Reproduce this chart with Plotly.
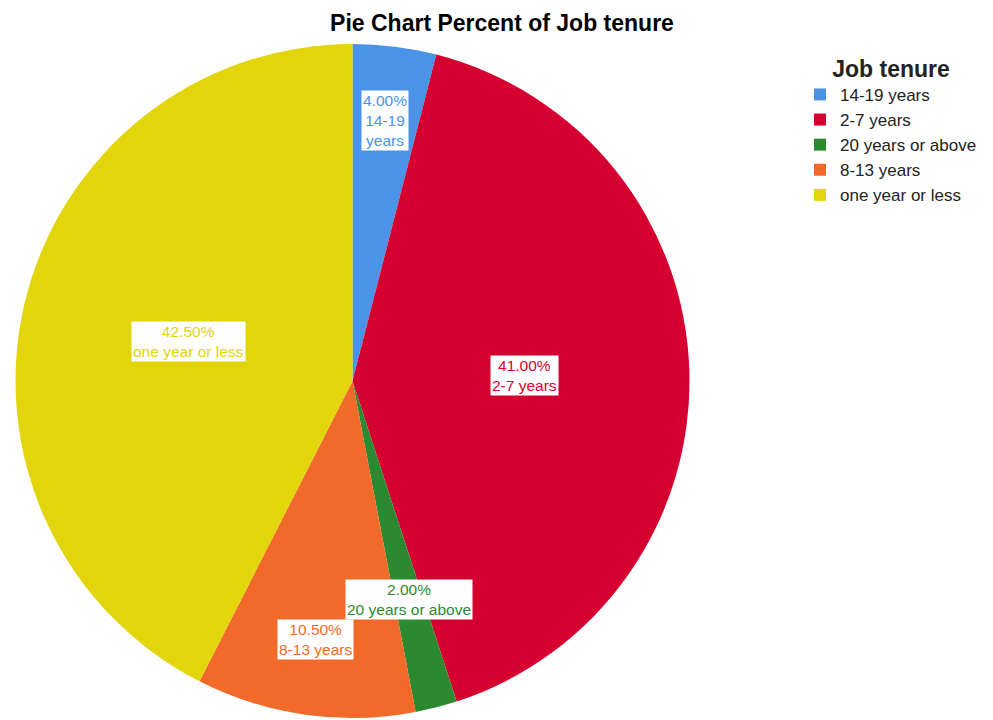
import math
import plotly.graph_objects as go

# Job tenure categories and their share of respondents (%)
categories = ["14-19 years", "2-7 years", "20 years or above", "8-13 years", "one year or less"]
percents = [4.0, 41.0, 2.0, 10.5, 42.5]

# Styling
colors = ["#4b93e6", "#d60030", "#2b8a30", "#f26a2a", "#e2d50b"]
label_radius = [0.78, 0.51, 0.67, 0.775, 0.50]  # fraction of pie radius for each label box

W, H = 993, 720
FONT = "Liberation Sans, Arial, sans-serif"
dom_x = [10 / W, 695 / W]
dom_y = [1 - 718 / H, 1 - 44 / H]

fig = go.Figure(
    go.Pie(
        labels=categories,
        values=percents,
        sort=False,
        direction="clockwise",
        rotation=0,
        marker=dict(colors=colors, line=dict(width=0)),
        textinfo="none",
        hoverinfo="label+percent",
        domain=dict(x=dom_x, y=dom_y),
    )
)

# Pie geometry in pixels, used to place the value labels at each slice's mid angle
cx_px = (dom_x[0] + dom_x[1]) / 2 * W
cy_px = (1 - (dom_y[0] + dom_y[1]) / 2) * H
radius_px = min((dom_x[1] - dom_x[0]) * W, (dom_y[1] - dom_y[0]) * H) / 2

total = sum(percents)
cum = 0.0
for cat, pct, col, rf in zip(categories, percents, colors, label_radius):
    mid = (cum + pct / 2) / total * 2 * math.pi
    cum += pct
    x_px = cx_px + rf * radius_px * math.sin(mid)
    y_px = cy_px - rf * radius_px * math.cos(mid)
    if cat == "14-19 years":
        text = f"{pct:.2f}%<br>14-19<br>years"
    else:
        text = f"{pct:.2f}%<br>{cat}"
    fig.add_annotation(
        x=x_px / W,
        y=1 - y_px / H,
        xref="paper",
        yref="paper",
        xanchor="center",
        yanchor="middle",
        text=text,
        showarrow=False,
        font=dict(family=FONT, size=15.5, color=col),
        bgcolor="white",
        borderpad=1,
        align="center",
    )

fig.update_layout(
    width=W,
    height=H,
    margin=dict(l=0, r=0, t=0, b=0),
    paper_bgcolor="white",
    plot_bgcolor="white",
    font=dict(family=FONT, color="#000000"),
    title=dict(
        text="<b>Pie Chart Percent of Job tenure</b>",
        x=502 / W,
        xanchor="center",
        y=1 - 23 / H,
        yanchor="middle",
        font=dict(size=23, color="#000000"),
    ),
    legend=dict(
        title=dict(text="<b>Job tenure</b>", font=dict(size=23), side="top center"),
        x=800 / W,
        xanchor="left",
        y=1 - 47 / H,
        yanchor="top",
        font=dict(size=17, color="#222222"),
        traceorder="normal",
        bgcolor="rgba(0,0,0,0)",
    ),
)

fig.write_html("out.html")
